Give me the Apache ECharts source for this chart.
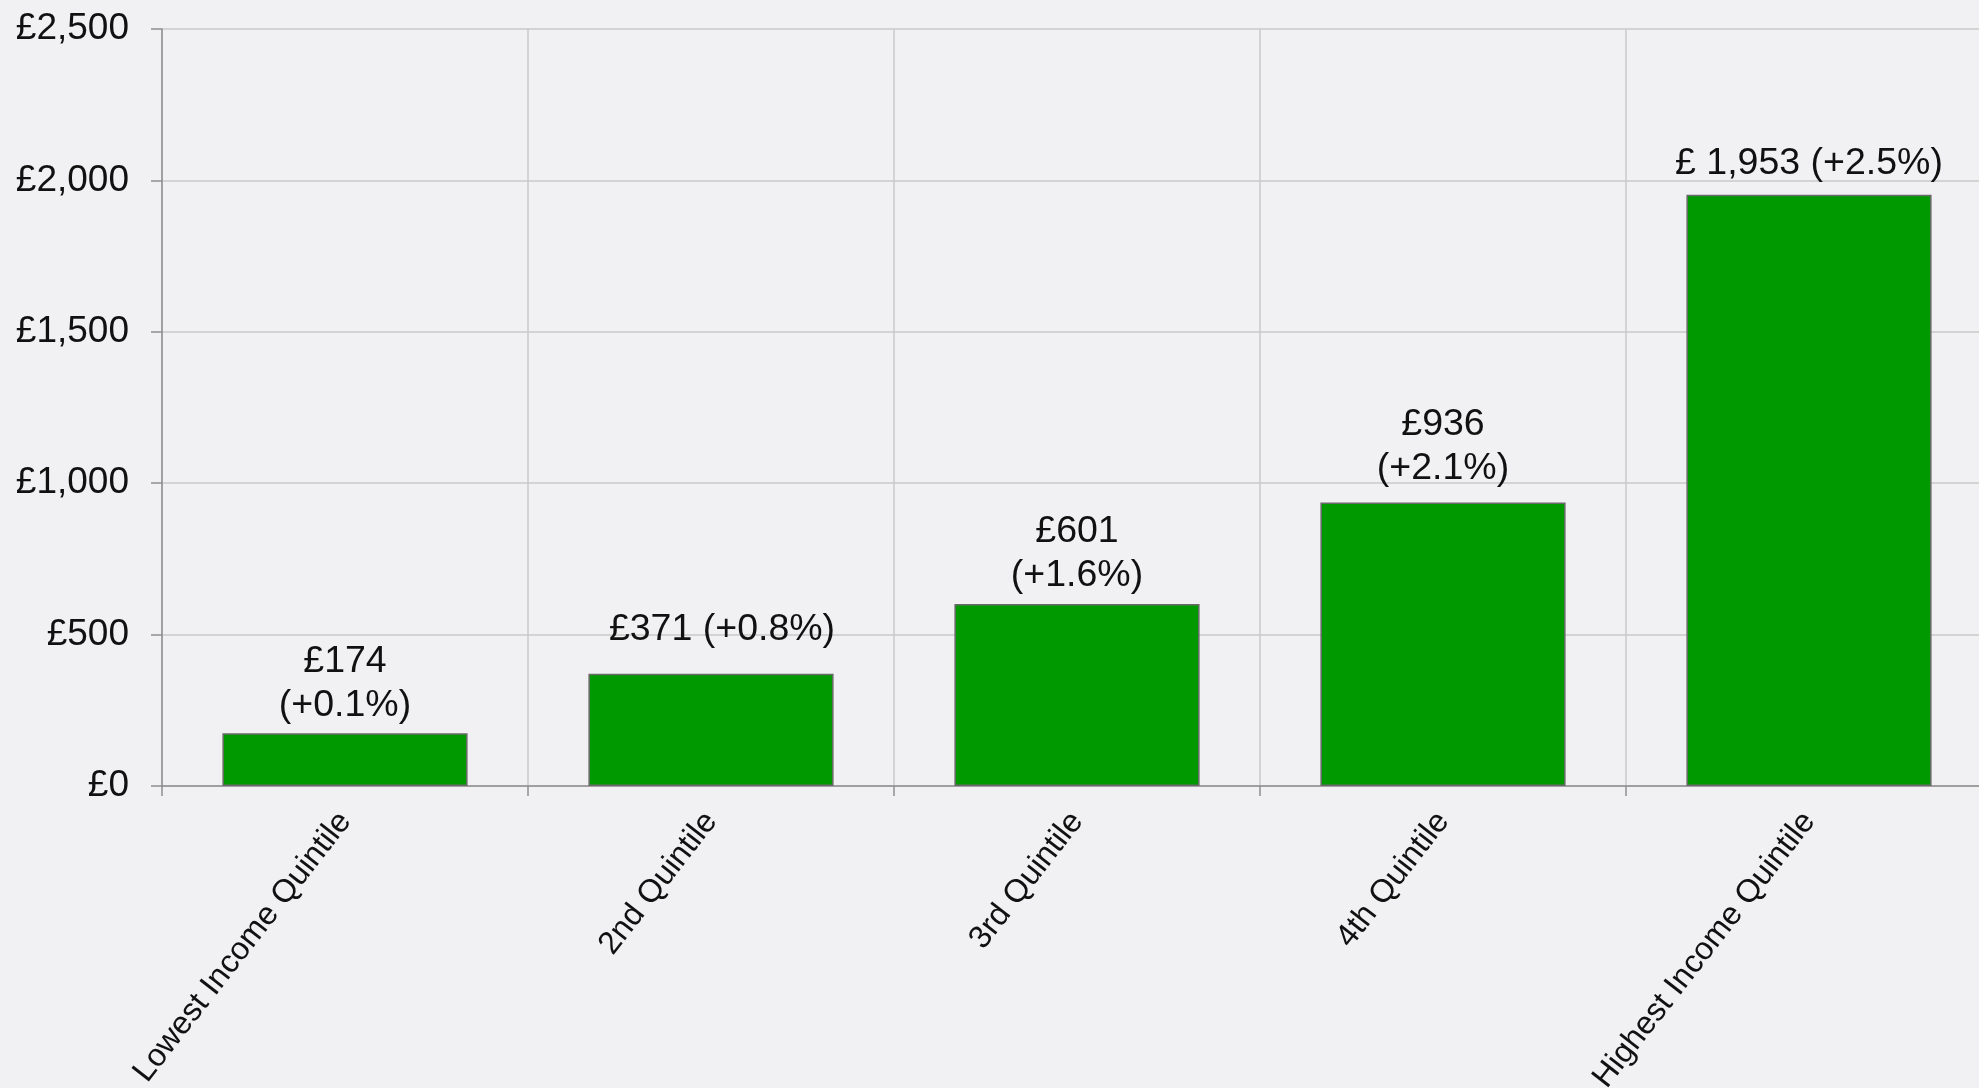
<!DOCTYPE html>
<html>
<head>
<meta charset="utf-8">
<title>Quintile chart</title>
<script src="https://cdn.jsdelivr.net/npm/echarts@6/dist/echarts.min.js"></script>
<style>
  html, body { margin: 0; padding: 0; background: #f1f1f3; overflow: hidden; }
  #chart { width: 1979px; height: 1088px; }
</style>
</head>
<body>
<div id="chart"></div>
<script>
// data
const categories = ['Lowest Income Quintile', '2nd Quintile', '3rd Quintile', '4th Quintile', 'Highest Income Quintile'];
const values = [174, 371, 601, 936, 1953];
const barLabels = ['£174\n(+0.1%)', '£371 (+0.8%)', '£601\n(+1.6%)', '£936\n(+2.1%)', '£ 1,953 (+2.5%)'];
const yTicks = [0, 500, 1000, 1500, 2000, 2500];

const font = '"Liberation Sans", Arial, sans-serif';

// labels in the original were nudged by hand a bit
const labelNudge = [[0, 0], [11, -16], [0, 0], [0, -6], [0, -3]];

let chart = echarts.init(document.getElementById('chart'));
chart.setOption({
  backgroundColor: '#f1f1f3',
  animation: false,
  textStyle: {
    fontFamily: font,
    color: '#111'
  },
  // the plot runs a little past the right edge of the picture
  grid: {
    left: 162,
    top: 29,
    width: 1830,
    height: 757,
    outerBoundsMode: 'none'
  },
  xAxis: {
    type: 'category',
    data: categories,
    boundaryGap: true,
    axisLine: {
      lineStyle: { color: '#8f8f8f', width: 1.5 }
    },
    axisTick: {
      show: true,
      length: 10,
      lineStyle: { color: '#8f8f8f', width: 1.5 }
    },
    splitLine: {
      show: true,
      lineStyle: { color: '#c8c8ca', width: 1.5 }
    },
    axisLabel: {
      rotate: 52,
      margin: 30,
      fontSize: 32,
      fontFamily: font,
      color: '#111'
    }
  },
  yAxis: {
    type: 'value',
    min: yTicks[0],
    max: yTicks[yTicks.length - 1],
    interval: 500,
    axisLine: {
      show: true,
      lineStyle: { color: '#8f8f8f', width: 1.5 }
    },
    axisTick: {
      show: true,
      length: 11,
      lineStyle: { color: '#8f8f8f', width: 1.5 }
    },
    splitLine: {
      lineStyle: { color: '#c8c8ca', width: 1.5 }
    },
    axisLabel: {
      margin: 33,
      fontSize: 37,
      fontFamily: font,
      color: '#111',
      formatter: function (v) {
        return '£' + v.toLocaleString('en-GB');
      }
    }
  },
  series: [{
    type: 'bar',
    data: values.map((v, i) => ({
      value: v,
      label: { offset: labelNudge[i] }
    })),
    barCategoryGap: '33%',
    itemStyle: {
      color: '#009900',
      borderColor: '#6a6a6a',
      borderWidth: 1.5
    },
    label: {
      show: true,
      position: 'top',
      distance: 6,
      fontSize: 37.5,
      lineHeight: 44,
      fontFamily: font,
      color: '#111',
      align: 'center',
      formatter: function (p) {
        return barLabels[p.dataIndex];
      }
    }
  }]
});
</script>
</body>
</html>
